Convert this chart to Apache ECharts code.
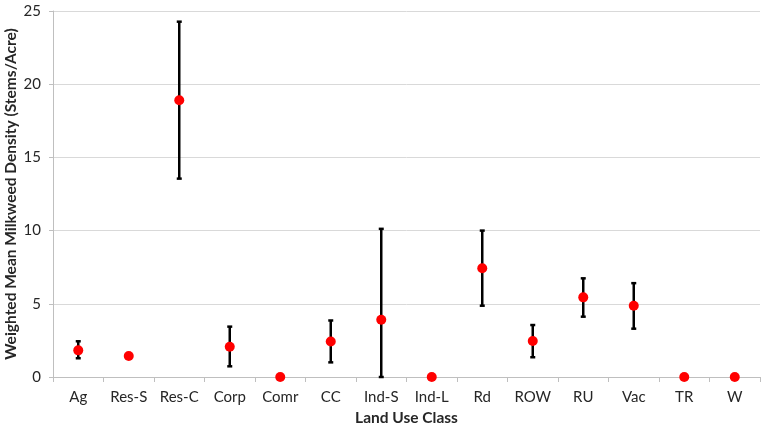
<!DOCTYPE html>
<html>
<head>
<meta charset="utf-8">
<script src="https://cdn.jsdelivr.net/npm/echarts@6/dist/echarts.min.js"></script>
<style>
  html, body { margin: 0; padding: 0; background: #fff; }
  #chart { width: 765px; height: 429px; }
</style>
</head>
<body>
<div id="chart"></div>
<script>
// land use classes
var categories = ['Ag', 'Res-S', 'Res-C', 'Corp', 'Comr', 'CC', 'Ind-S', 'Ind-L', 'Rd', 'ROW', 'RU', 'Vac', 'TR', 'W'];
// weighted mean density
var means = [1.82, 1.43, 18.9, 2.07, 0, 2.43, 3.91, 0, 7.43, 2.46, 5.44, 4.87, 0, 0];
// error bar ends (null = no bar)
var upper = [2.44, null, 24.27, 3.44, null, 3.86, 10.12, null, 10.0, 3.55, 6.74, 6.41, null, null];
var lower = [1.28, null, 13.55, 0.73, null, 1.0, 0, null, 4.87, 1.35, 4.12, 3.3, null, null];
var yTicks = [0, 5, 10, 15, 20, 25];

var font = 'Lato, "Open Sans", sans-serif';

var barData = [];
for (var i = 0; i < categories.length; i++) {
  if (upper[i] !== null) barData.push([i, lower[i], upper[i]]);
}

var chart = echarts.init(document.getElementById('chart'));
chart.setOption({
  animation: false,
  grid: { left: 53, right: 5, top: 11, bottom: 52, outerBoundsMode: 'none', containLabel: false },
  xAxis: {
    type: 'category',
    data: categories,
    name: 'Land Use Class',
    nameLocation: 'middle',
    nameGap: 33,
    nameTextStyle: { fontFamily: font, fontSize: 15.5, fontWeight: 'bold', color: '#262626' },
    axisLine: { lineStyle: { color: '#bfbfbf', width: 1 } },
    axisTick: { show: true, length: 5, lineStyle: { color: '#bfbfbf' } },
    axisLabel: { interval: 0, fontFamily: font, fontSize: 15, color: '#262626', margin: 13 },
    splitLine: { show: false }
  },
  yAxis: {
    type: 'value',
    min: yTicks[0],
    max: yTicks[yTicks.length - 1],
    interval: 5,
    name: 'Weighted Mean Milkweed Density (Stems/Acre)',
    nameLocation: 'middle',
    nameGap: 34,
    nameMoveOverlap: false,
    nameTextStyle: { fontFamily: font, fontSize: 15.5, fontWeight: 'bold', color: '#262626' },
    axisLine: { show: true, lineStyle: { color: '#bfbfbf', width: 1 } },
    axisTick: { show: true, length: 4, lineStyle: { color: '#bfbfbf' } },
    axisLabel: { fontFamily: font, fontSize: 15, color: '#262626', margin: 12 },
    splitLine: { show: true, lineStyle: { color: '#d9d9d9', width: 1 } }
  },
  series: [
    {
      type: 'custom',
      data: barData,
      z: 2,
      renderItem: function (params, api) {
        var x = api.value(0);
        var lo = api.coord([x, api.value(1)]);
        var hi = api.coord([x, api.value(2)]);
        var cap = 2.5;
        var st = { stroke: '#000', lineWidth: 2.5 };
        return {
          type: 'group',
          children: [
            { type: 'line', shape: { x1: lo[0], y1: lo[1], x2: hi[0], y2: hi[1] }, style: st },
            { type: 'line', shape: { x1: hi[0] - cap, y1: hi[1], x2: hi[0] + cap, y2: hi[1] }, style: st },
            { type: 'line', shape: { x1: lo[0] - cap, y1: lo[1], x2: lo[0] + cap, y2: lo[1] }, style: st }
          ]
        };
      }
    },
    {
      type: 'scatter',
      data: means,
      symbol: 'circle',
      symbolSize: 10,
      z: 3,
      itemStyle: { color: '#ff0000', opacity: 1 }
    }
  ]
});
</script>
</body>
</html>
